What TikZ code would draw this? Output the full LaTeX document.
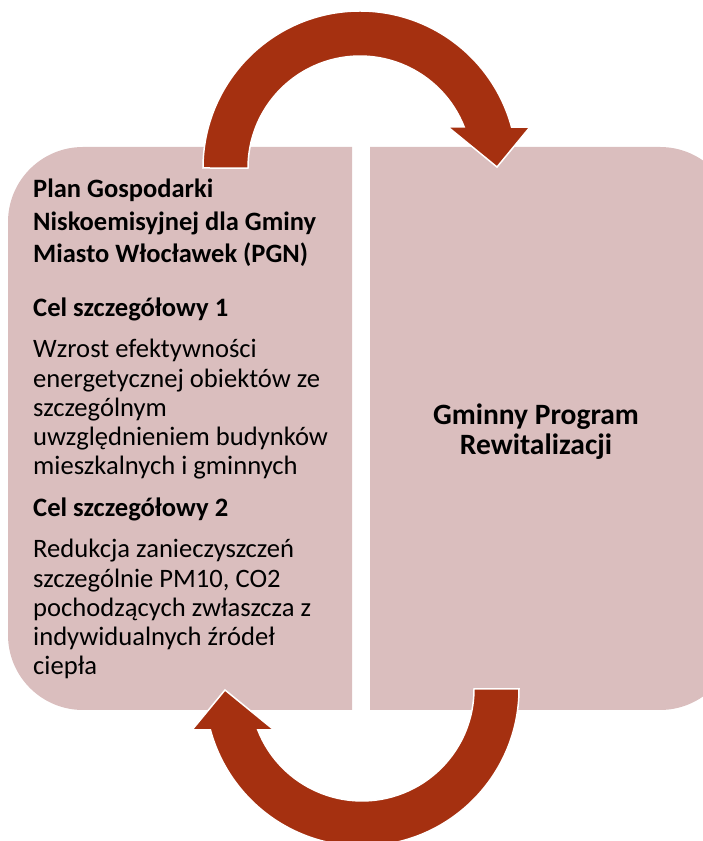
\documentclass[tikz,border=0pt]{standalone}
\usepackage{fontspec}
\setmainfont{Carlito}
\usepackage{tikz}

\definecolor{tlo}{RGB}{218,190,190}
\definecolor{czerwien}{RGB}{165,48,16}

\tikzset{
    pole/.style={fill=tlo},
    strzalka/.style={fill=czerwien, draw=white, line width=1.5pt, line join=miter},
    tytul/.style={font=\fontsize{26.5}{32.5}\selectfont\bfseries, align=left, inner sep=0pt},
    cel/.style={font=\fontsize{26.6}{29.3}\selectfont\bfseries, inner sep=0pt},
    opis/.style={font=\fontsize{26.6}{29.3}\selectfont, align=left, inner sep=0pt},
}

\begin{document}
\begin{tikzpicture}[x=1pt, y=1pt]
    \useasboundingbox (0,0) rectangle (703,841);
    \clip (0,0) rectangle (703,841);
    % pola
        \fill [pole] (352,131) -- (83,131) arc[start angle=270, end angle=180, radius=75] -- (8,619) arc[start angle=180, end angle=90, radius=75] -- (352,694) -- cycle;
        \fill [pole] (370,131) -- (370,694) -- (660,694) arc[start angle=90, end angle=0, radius=75] -- (735,206) arc[start angle=0, end angle=-90, radius=75] -- cycle;
    % strzalki
        \filldraw [strzalka] (203,673) arc[start angle=180, end angle=15.1, radius=157] -- (530,714) -- (497,674) -- (448,714) -- (464.2,714) arc[start angle=21.5, end angle=180, radius=112] -- cycle;
        \begin{scope}[rotate around={180:(361,412.5)}]
        \filldraw [strzalka] (203,673) arc[start angle=180, end angle=15.1, radius=157] -- (530,714) -- (497,674) -- (448,714) -- (464.2,714) arc[start angle=21.5, end angle=180, radius=112] -- cycle;
        \end{scope}
    % teksty (base = ostatnia linia)
        \node [tytul, anchor=base west] (pgn) at (33,578) {Plan Gospodarki\\Niskoemisyjnej dla Gminy\\Miasto Włocławek (PGN)};
        \node [cel, anchor=base west] (cel1) at (33,524) {Cel szczegółowy 1};
        \node [opis, anchor=base west] (opis1) at (33,366) {Wzrost efektywności\\energetycznej obiektów ze\\szczególnym\\uwzględnieniem budynków\\mieszkalnych i gminnych};
        \node [cel, anchor=base west] (cel2) at (33,324) {Cel szczegółowy 2};
        \node [opis, anchor=base west] (opis2) at (33,166) {Redukcja zanieczyszczeń\\szczególnie PM10, CO2\\pochodzących zwłaszcza z\\indywidualnych źródeł\\ciepła};
        \node [tytul, font=\fontsize{29.5}{30}\selectfont\bfseries, align=center, anchor=base] (gpr) at (536,386) {Gminny Program\\Rewitalizacji};
\end{tikzpicture}
\end{document}
